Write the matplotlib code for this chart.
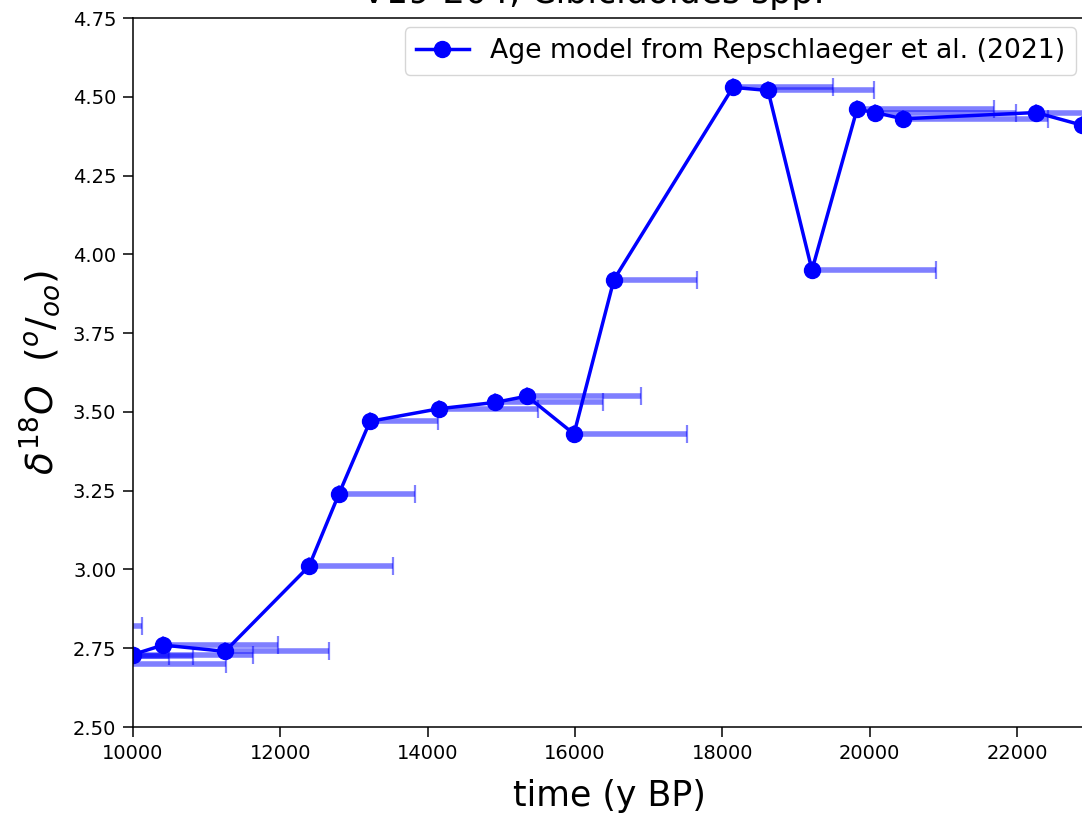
import numpy as np
from matplotlib import pyplot as plt

# age model (y BP), d18O values and one-sided age uncertainty
age = [8900, 9200, 9450, 9700, 10000, 10407, 11249, 12389, 12796, 13217, 14154,
       14914, 15348, 15986, 16529, 18144, 18620, 19217, 19828, 20072, 20452,
       22257, 22882]
d18o = [2.82, 2.70, 2.725, 2.725, 2.73, 2.76, 2.74, 3.01, 3.24, 3.47, 3.51,
        3.53, 3.55, 3.43, 3.92, 4.53, 4.52, 3.95, 4.46, 4.45, 4.43,
        4.45, 4.41]
age_err = [1220, 2060, 1360, 790, 1625, 1560, 1405, 1140, 1030, 927, 1343,
           1466, 1543, 1538, 1127, 1354, 1438, 1683, 1859, 1914, 1968,
           1500, 1500]

y_ticks = [2.50, 2.75, 3.00, 3.25, 3.50, 3.75, 4.00, 4.25, 4.50, 4.75]


def graph(age, d18o, age_err):
    fig = plt.figure(figsize=(10.82, 8.16), dpi=100)
    ax = fig.add_axes([133 / 1082, 89 / 816, 952.5 / 1082, 709 / 816])

    xerr = np.array([np.zeros(len(age_err)), age_err])
    ax.errorbar(age, d18o, xerr=xerr, fmt='none', ecolor='blue', alpha=0.5,
                elinewidth=4, capsize=6.5, capthick=1.6)
    ax.plot(age, d18o, '-o', color='blue', lw=2.5, markersize=11.5,
            label='Age model from Repschlaeger et al. (2021)')

    ax.set_xlim(10000, 22930)
    ax.set_ylim(2.5, 4.75)
    ax.set_yticks(y_ticks)
    ax.set_yticklabels([f"{v:.2f}" for v in y_ticks])

    ax.set_title('V19-204, Cibicidoides spp.', fontsize=25, pad=11,
                 x=(593 - 133) / 952.5)
    ax.set_xlabel('time (y BP)', fontsize=25, labelpad=12)
    ax.set_ylabel(r'$\delta^{18}O$  $(^o/_{oo})$', fontsize=27, labelpad=8)
    ax.tick_params(labelsize=14, length=7, width=1.1, pad=5)
    for s in ax.spines.values():
        s.set_linewidth(1.1)
    ax.legend(loc='upper right', fontsize=19.2, borderaxespad=0.35)

    fig.savefig('out.png', dpi=100)


graph(age, d18o, age_err)
